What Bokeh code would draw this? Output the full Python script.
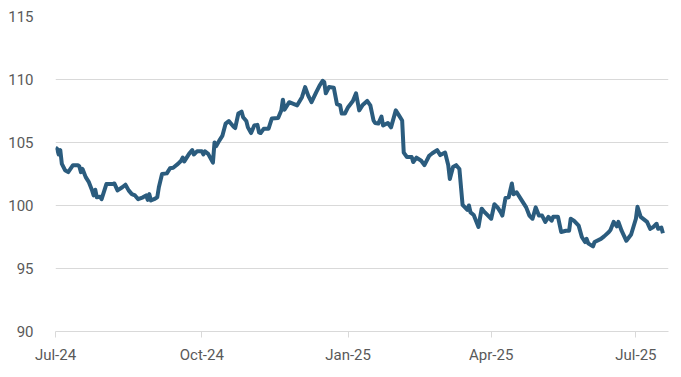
import pandas as pd
from bokeh.plotting import figure
from bokeh.models import FixedTicker, DatetimeTickFormatter, Range1d, ColumnDataSource
from bokeh.embed import file_html
from bokeh.resources import INLINE

dates = [
    "2024-07-01", "2024-07-02", "2024-07-03", "2024-07-04", "2024-07-05", "2024-07-07",
    "2024-07-09", "2024-07-12", "2024-07-15", "2024-07-16", "2024-07-17", "2024-07-18",
    "2024-07-20", "2024-07-22", "2024-07-24", "2024-07-25", "2024-07-26", "2024-07-27",
    "2024-07-29", "2024-07-30", "2024-08-02", "2024-08-06", "2024-08-07", "2024-08-09",
    "2024-08-12", "2024-08-14", "2024-08-16", "2024-08-18", "2024-08-20", "2024-08-22",
    "2024-08-25", "2024-08-27", "2024-08-28", "2024-08-29", "2024-08-30", "2024-09-01",
    "2024-09-03", "2024-09-04", "2024-09-06", "2024-09-09", "2024-09-11", "2024-09-13",
    "2024-09-16", "2024-09-18", "2024-09-19", "2024-09-20", "2024-09-23", "2024-09-25",
    "2024-09-26", "2024-09-28", "2024-10-01", "2024-10-02", "2024-10-03", "2024-10-05",
    "2024-10-08", "2024-10-09", "2024-10-10", "2024-10-12", "2024-10-14", "2024-10-16",
    "2024-10-18", "2024-10-21", "2024-10-22", "2024-10-24", "2024-10-26", "2024-10-27",
    "2024-10-29", "2024-10-30", "2024-11-01", "2024-11-03", "2024-11-05", "2024-11-06",
    "2024-11-07", "2024-11-09", "2024-11-12", "2024-11-14", "2024-11-18", "2024-11-20",
    "2024-11-21", "2024-11-22", "2024-11-25", "2024-11-28", "2024-11-30", "2024-12-03",
    "2024-12-05", "2024-12-07", "2024-12-09", "2024-12-12", "2024-12-14", "2024-12-16",
    "2024-12-17", "2024-12-18", "2024-12-20", "2024-12-23", "2024-12-25", "2024-12-27",
    "2024-12-28", "2024-12-30", "2025-01-01", "2025-01-04", "2025-01-06", "2025-01-08",
    "2025-01-10", "2025-01-13", "2025-01-15", "2025-01-17", "2025-01-18", "2025-01-20",
    "2025-01-22", "2025-01-23", "2025-01-26", "2025-01-28", "2025-01-31", "2025-02-02",
    "2025-02-04", "2025-02-05", "2025-02-07", "2025-02-10", "2025-02-11", "2025-02-13",
    "2025-02-16", "2025-02-18", "2025-02-21", "2025-02-23", "2025-02-26", "2025-02-28",
    "2025-03-03", "2025-03-05", "2025-03-06", "2025-03-08", "2025-03-10", "2025-03-12",
    "2025-03-14", "2025-03-17", "2025-03-18", "2025-03-19", "2025-03-21", "2025-03-24",
    "2025-03-26", "2025-03-28", "2025-04-01", "2025-04-03", "2025-04-05", "2025-04-07",
    "2025-04-08", "2025-04-10", "2025-04-12", "2025-04-14", "2025-04-15", "2025-04-17",
    "2025-04-19", "2025-04-23", "2025-04-25", "2025-04-27", "2025-04-29", "2025-05-01",
    "2025-05-03", "2025-05-05", "2025-05-07", "2025-05-09", "2025-05-10", "2025-05-13",
    "2025-05-15", "2025-05-18", "2025-05-20", "2025-05-21", "2025-05-23", "2025-05-26",
    "2025-05-28", "2025-05-30", "2025-05-31", "2025-06-01", "2025-06-04", "2025-06-05",
    "2025-06-09", "2025-06-11", "2025-06-14", "2025-06-15", "2025-06-17", "2025-06-19",
    "2025-06-20", "2025-06-22", "2025-06-25", "2025-06-28", "2025-07-01", "2025-07-02",
    "2025-07-04", "2025-07-07", "2025-07-08", "2025-07-10", "2025-07-12", "2025-07-14",
    "2025-07-15", "2025-07-17", "2025-07-18",
]

values = [
    104.6, 104.5, 104.05, 104.4, 103.3, 102.8,
    102.65, 103.2, 103.2, 103.1, 102.65, 102.9,
    102.25, 101.85, 101.2, 100.8, 101.25, 100.65,
    100.7, 100.5, 101.7, 101.7, 101.75, 101.2,
    101.45, 101.65, 101.2, 100.9, 100.8, 100.5,
    100.65, 100.8, 100.45, 100.9, 100.4, 100.5,
    100.65, 101.45, 102.5, 102.55, 102.95, 103.0,
    103.3, 103.55, 103.8, 103.5, 104.1, 104.4,
    104.05, 104.3, 104.3, 104.05, 104.3, 104.1,
    103.4, 105.0, 104.7, 105.15, 105.55, 106.5,
    106.7, 106.25, 106.15, 107.3, 107.45, 107.0,
    106.7, 106.2, 105.75, 106.35, 106.4, 105.8,
    105.75, 106.1, 106.1, 106.9, 106.95, 107.55,
    108.4, 107.6, 108.2, 108.05, 107.95, 108.6,
    109.4, 108.7, 108.2, 109.0, 109.5, 109.9,
    109.8, 108.9, 109.4, 109.35, 108.05, 107.95,
    107.3, 107.3, 107.8, 108.3, 108.9, 107.55,
    107.95, 108.3, 107.95, 106.75, 106.55, 106.5,
    107.05, 106.35, 106.55, 106.2, 107.55, 107.15,
    106.75, 104.2, 103.85, 103.85, 103.45, 103.8,
    103.55, 103.2, 103.95, 104.15, 104.4, 104.0,
    104.2, 103.2, 102.1, 103.05, 103.2, 102.9,
    100.05, 99.65, 100.0, 99.45, 99.25, 98.3,
    99.75, 99.45, 98.95, 100.1, 99.85, 99.45,
    99.2, 100.6, 100.65, 101.75, 100.9, 101.05,
    100.65, 99.85, 99.2, 98.95, 99.85, 99.2,
    99.2, 98.7, 99.1, 98.8, 99.1, 99.1,
    97.9, 98.0, 98.0, 98.95, 98.8, 98.4,
    97.5, 97.1, 97.35, 97.0, 96.75, 97.1,
    97.35, 97.55, 97.9, 98.05, 98.7, 98.35,
    98.7, 98.0, 97.2, 97.7, 98.95, 99.9,
    99.1, 98.8, 98.7, 98.15, 98.3, 98.55,
    98.15, 98.25, 97.8,
]

tick_dates = ["2024-07-01", "2024-10-01", "2025-01-01", "2025-04-01", "2025-07-01"]
y_ticks = [90, 95, 100, 105, 110, 115]

src = ColumnDataSource(dict(x=pd.to_datetime(dates), y=values))

x_start = pd.Timestamp("2024-07-01")
x_end = pd.Timestamp("2025-07-21 12:00")

p = figure(
    width=681, height=377, x_axis_type="datetime",
    x_range=Range1d(x_start, x_end), y_range=Range1d(90, 115),
    output_backend="svg", toolbar_location=None,
    min_border_left=55, min_border_right=13, min_border_top=16, min_border_bottom=46,
)
p.outline_line_color = None
p.background_fill_color = "white"
p.border_fill_color = "white"

p.line("x", "y", source=src, line_color="#2B5C7E", line_width=4, line_join="round")

tick_ms = [pd.Timestamp(d).value / 1e6 for d in tick_dates]
p.xaxis.ticker = FixedTicker(ticks=tick_ms)
fmt = "%b-%y"
p.xaxis.formatter = DatetimeTickFormatter(
    microseconds=fmt, milliseconds=fmt, seconds=fmt, minsec=fmt, minutes=fmt,
    hourmin=fmt, hours=fmt, days=fmt, months=fmt, years=fmt,
)
p.xaxis.axis_line_color = "#D9D9D9"
p.xaxis.axis_line_width = 1.2
p.xaxis.major_tick_line_color = "#D9D9D9"
p.xaxis.major_tick_out = 6
p.xaxis.major_tick_in = 0
p.xaxis.minor_tick_line_color = None
p.xaxis.major_label_standoff = 8
p.xaxis.major_label_text_font = "Roboto"
p.xaxis.major_label_text_font_size = "15px"
p.xaxis.major_label_text_color = "#595959"

p.yaxis.ticker = FixedTicker(ticks=y_ticks)
p.yaxis.axis_line_color = None
p.yaxis.major_tick_line_color = None
p.yaxis.minor_tick_line_color = None
p.yaxis.major_label_standoff = 16
p.yaxis.major_label_text_font = "Roboto"
p.yaxis.major_label_text_font_size = "15px"
p.yaxis.major_label_text_color = "#595959"

p.xgrid.grid_line_color = None
p.ygrid.ticker = FixedTicker(ticks=[95, 100, 105, 110, 115])
p.ygrid.grid_line_color = "#D9D9D9"
p.ygrid.grid_line_width = 1.2

open("out.html", "w").write(file_html(p, INLINE))
